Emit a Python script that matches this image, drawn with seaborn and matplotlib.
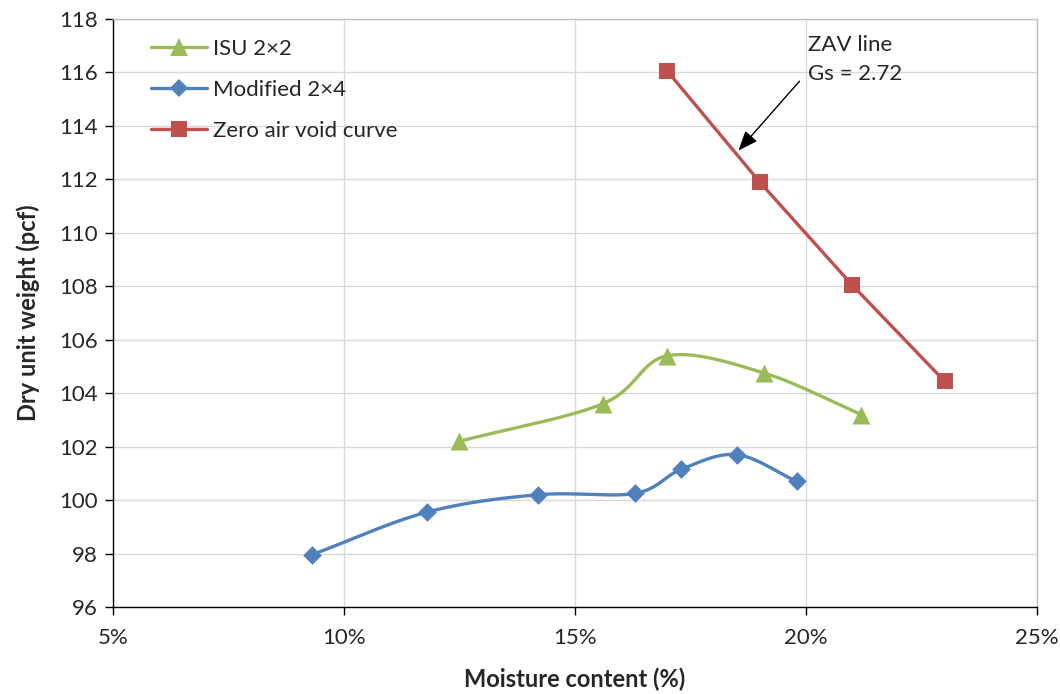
import numpy as np
import seaborn as sns
from matplotlib import pyplot as plt
from matplotlib.lines import Line2D
from matplotlib.ticker import FuncFormatter

# data
isu_moisture = [12.5, 15.6, 17.0, 19.1, 21.2]
isu_weight = [102.2, 103.6, 105.4, 104.75, 103.2]

mod_moisture = [9.3, 11.8, 14.2, 16.3, 17.3, 18.5, 19.8]
mod_weight = [97.95, 99.55, 100.2, 100.25, 101.15, 101.7, 100.7]

zav_moisture = [17.0, 19.0, 21.0, 23.0]
zav_weight = [116.05, 111.9, 108.05, 104.45]

GREEN = '#9BBB59'
BLUE = '#4F81BD'
RED = '#C0504D'


def smooth(xs, ys, n=40):
    # catmull-rom spline through the points, like excel's smoothed line
    xs, ys = np.asarray(xs, float), np.asarray(ys, float)
    px = np.concatenate([[2 * xs[0] - xs[1]], xs, [2 * xs[-1] - xs[-2]]])
    py = np.concatenate([[2 * ys[0] - ys[1]], ys, [2 * ys[-1] - ys[-2]]])
    out_x, out_y = [], []
    t = np.linspace(0, 1, n)
    for i in range(1, len(px) - 2):
        for p, out in ((px, out_x), (py, out_y)):
            p0, p1, p2, p3 = p[i - 1:i + 3]
            out.extend(0.5 * ((2 * p1) + (-p0 + p2) * t
                              + (2 * p0 - 5 * p1 + 4 * p2 - p3) * t ** 2
                              + (-p0 + 3 * p1 - 3 * p2 + p3) * t ** 3))
    return np.array(out_x), np.array(out_y)


sns.set_theme(style='whitegrid')
plt.rcParams['font.family'] = ['Lato', 'DejaVu Sans']

fig = plt.figure(figsize=(10.6, 6.94), dpi=100)
ax = fig.add_axes([0.1066, 0.1254, 0.8716, 0.8472])

series = [
    ('ISU 2×2', isu_moisture, isu_weight, GREEN, '^', 13, True),
    ('Modified 2×4', mod_moisture, mod_weight, BLUE, 'D', 9.5, True),
    ('Zero air void curve', zav_moisture, zav_weight, RED, 's', 12, False),
]

handles = []
for name, xs, ys, color, marker, ms, smoothed in series:
    if smoothed:
        lx, ly = smooth(xs, ys)
    else:
        lx, ly = np.array(xs), np.array(ys)
    sns.lineplot(x=lx, y=ly, sort=False, color=color, linewidth=2.4, ax=ax,
                 estimator=None, zorder=3)
    sns.scatterplot(x=xs, y=ys, color=color, marker=marker, s=ms ** 2,
                    linewidth=0, ax=ax, zorder=4)
    handles.append(Line2D([], [], color=color, linewidth=2.4, marker=marker,
                          markersize=ms, markeredgewidth=0, label=name))

ax.set_xlim(5, 25)
ax.set_ylim(96, 118)
ax.set_xticks(np.arange(5, 26, 5))
ax.set_yticks(np.arange(96, 119, 2))
ax.xaxis.set_major_formatter(FuncFormatter(lambda v, _: f'{v:.0f}%'))

ax.grid(True, color='#D9D9D9', linewidth=1)
for side in ('top', 'right'):
    ax.spines[side].set_color('#BFBFBF')
    ax.spines[side].set_linewidth(1)
for side in ('left', 'bottom'):
    ax.spines[side].set_color('black')
    ax.spines[side].set_linewidth(1)
ax.tick_params(axis='both', which='major', length=6, width=1, color='black',
               direction='out', labelsize=16, labelcolor='#262626',
               left=True, bottom=True)
ax.tick_params(axis='x', pad=9)
ax.tick_params(axis='y', pad=5)

ax.set_xlabel('Moisture content (%)', fontsize=17, fontweight='bold',
              labelpad=14)
ax.set_ylabel('Dry unit weight (pcf)', fontsize=17, fontweight='bold',
              labelpad=14)

ax.legend(handles=handles, loc='upper left', bbox_to_anchor=(0.02, 1.0),
          frameon=False, fontsize=16, handlelength=2.5, labelspacing=0.95,
          handletextpad=0.25)

ax.annotate('', xy=(18.5, 113.0), xytext=(19.9, 115.75),
            arrowprops=dict(arrowstyle='-|>,head_length=1.0,head_width=0.4',
                            color='black', linewidth=1), zorder=5)
ax.text(20.05, 117.4, 'ZAV line\nGs = 2.72', fontsize=16, va='top', ha='left',
        color='#262626', linespacing=1.55)

fig.savefig('out.png', dpi=100)
